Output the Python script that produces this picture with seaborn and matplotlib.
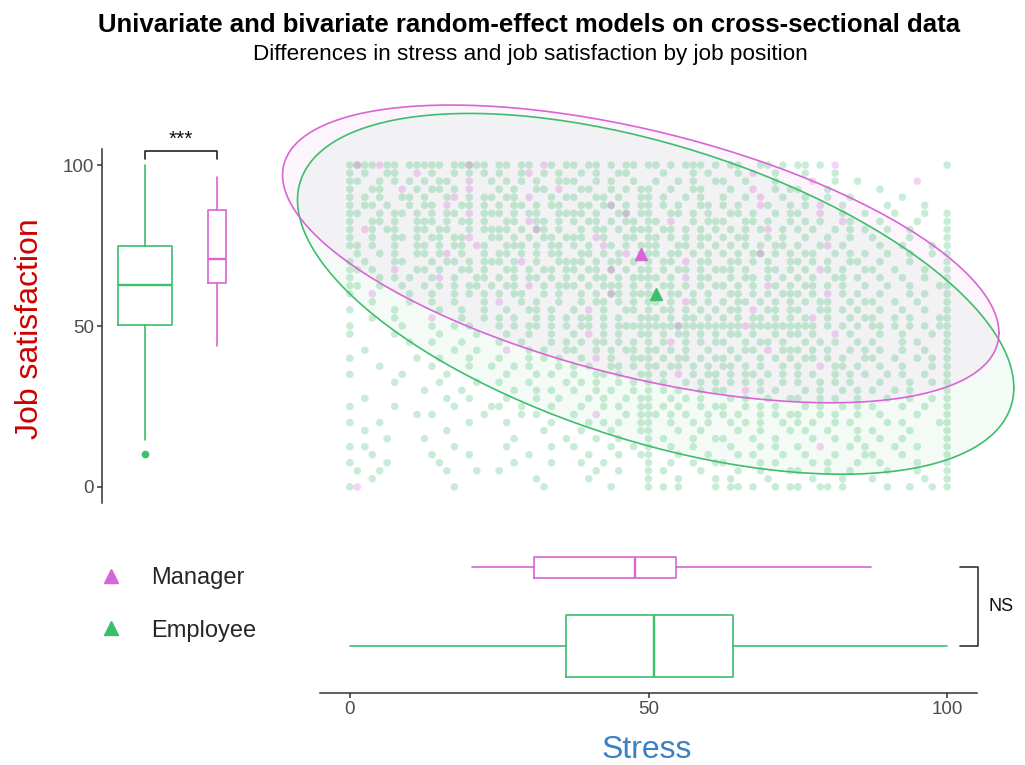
import numpy as np
import pandas as pd
import matplotlib.pyplot as plt
import seaborn as sns
from matplotlib.lines import Line2D

sns.set_theme(style='white')
plt.rcParams['font.family'] = ['Liberation Sans', 'DejaVu Sans']

W, H = 1025, 765

# --- data ---
groups = ['Employee', 'Manager']
palette = {'Manager': '#D865D5', 'Employee': '#3DBE6C'}
n_obs = {'Employee': 1750, 'Manager': 205}

# job satisfaction boxplot (employee, manager)
js_low = [14.5, 43.8]
js_q1 = [50.3, 63.3]
js_med = [62.6, 70.9]
js_q3 = [74.8, 85.9]
js_high = [100, 96.4]
js_out = [[10.2], []]

# stress boxplot (employee, manager)
st_low = [0, 20.5]
st_q1 = [36.2, 30.9]
st_med = [51.0, 47.7]
st_q3 = [64.2, 54.6]
st_high = [100, 87.2]
st_out = [[], []]

# bivariate model estimates
mean_stress = {'Manager': 48.7, 'Employee': 51.2}
mean_js = {'Manager': 72.4, 'Employee': 60.0}
sd_stress = {'Manager': 24.5, 'Employee': 24.5}
sd_js = {'Manager': 18.9, 'Employee': 22.9}
rho = {'Manager': -0.53, 'Employee': -0.52}
chi2_95 = 5.991

# raw answers: one row per job satisfaction level (100 -> 0, step 2.5),
# one character per stress level (0 -> 100, step 1.25); o = employee, m = manager, x = both
grid_rows = [
    "oxoomoo.oo ooo.ooxoo. oo.oo.mo.o o.oo.o.oo. oo.o.ooo.o .oo..oo.o. oo.o.m.... .......... o",
    "o.o..oo..m .o..o.o.o. o..om.o.o. .o.o..oo.. ..o...o.o. ..o.m..o.. .o...o.... .......... .",
    "oo..o.o.o. o.oo..m..o .o.o.o..oo o..o.o..o. .o..o.o..o o..o...o.. ..m..o..o. ......m... .",
    "o..oo..m.o .oo.o.m... o.o..oo.m. .oo..o.o.o o..o..oo.. .o..m..o.o o...o..... .o........ .",
    "o.o.o..oo. o..om.o.oo .oo.m..o.o o..oo.o..o o.o..o.o.. o..o.m..o. .o..o..o.. ....o..... .",
    "o.oo.o..o. oo.m.oo.o. o.oo.o.oo. .oo.ox.o.o o.o.o..oo. o.o..mo..o .o.m..o... ..o....o.. .",
    "oo..o.oo.o .o.oo.m.oo o.o.oo..oo oo.o..ox.o o..oo.o.o. .oo.o..o.o o..m..o..o ...o...o.. o",
    "o..oo.o..o oo.o.oo.o. .oo.moo.o. o.oo.o.oo. oo.m..o.oo o..oo.o..o .o.o..mo.. .o....o... o",
    "o.mo.oo..o o.oo..o.oo oo.o.xo.o. .o.oo.o.oo o.oo.o.o.o .o.o.om.o. o.o..o.o.o ..o..o.... o",
    "o..o..oo.o .oo.oom..o o.o.o.oo.o oo.mo..oo. oo.o.o.oo. o.oo..o.o. .o..o..o.. o....o.... o",
    "oo.o..o..o o.o.oo.mo. .ooo.o.oo. o.o.mo.o.o oo..oo.o.o .o.o.o.oo. o..om.o... .o..o...o. o",
    ".o..o.o..o o.om.o..o. oo.o.o.oo. .oo.o.om.o oo.oo.o.o. o.o.ox.o.o .oo..o.o.o ..o..o..o. o",
    "o.o...oo.. .o.oo.o.oo o.om.o..oo oo.o.oo.o. o.oo.m.oo. .oo.o.o..o o.o.o..oo. .o...o.... o",
    "oo.o..m..o o.o..oo.o. .oo.o.oo.o o.oo.x.o.o o.o.oo.o.o oo.o..oo.o .o.mo.o..o o..o...o.. o",
    "o...o.o.o. .om.o..oo. o.o.oo.o.o .o.oo.o.oo oo.o.m.oo. .o.oo.o.o. o.o..oo.o. .o..o..o.. o",
    "oo..o..o.. o.o.o.oo.o .oo.m.o.oo o.o.ooo.o. o.oo.o.o.o o.o.o.mo.o .oo.o.o..o ..o..o...o o",
    "o..m....o. .o..o.o.o. o.oo..o.o. .o.o.xo.oo oo.oo.o.o. .oo.o.o.oo o.o.m.o.o. .o...o.o.. o",
    "...o....o. .o..o...o. m..o.o..o. .o.oo.o.o. oo.o.mo.o. o.oo.o.o.o .o.oo..o.o o..o..o... o",
    "o.....o... ..o..o..o. .o..oo.o.. o.m.o..oo. o.oo.o.o.o .oo.m.oo.o o..oo.o.o. .o..o..o.. o",
    "...o..o... .m...o..o. o.o..o.o.o .oo.o.o..o oo.o.oo.o. o.o.oo.o.o .om.o..o.o o..o.o...o o",
    "o......o.. .o..o.o... o.o.oo.o.o .oo.o.oooo ooooxooooo ooomoooooo ooo.o.o.o. oo.o.o.o.o o",
    "o.....o... ..o....o.. .o..o..o.. o.m.o.o..o o.o.oo.o.o .oo.o..o.o o.o..m.o.. .o..o...o. o",
    "........o. .o...o.... o..o...o.o .o.oo.o.o. o.om.o.o.o o..o.oo.o. .o.o.o..o. o...o.o... o",
    "..o....... ....o..o.. .m..o.o..o o..o.o.oo. oo.o.o..o. .o.oo.m.oo o.o.o..o.o .o..o..o.. o",
    "o........o ..o...o... o...o.o.o. .o.m.o..oo o.o.oo.o.o o.o..o.o.o .oo.o.o..o o..o..o.o. o",
    "....o..... .o....o..o ..o.o...o. o.o..oo.o. oo.oo.o.o. oo.o.o..o. o..m.oo.o. .o..o...o. o",
    "o......o.. ...o...... .o...o.o.. o..oo.o..o o.o.m.o.oo .o.oo.o.o. o.o..o.o.o ..o.o..o.. o",
    "......o... ..o....o.. o...o....o .o.o..o.o. o.o..o.o.o .o.o.o..o. o..o.o.o.. .o...o..o. o",
    ".......... o....o.... ..o..o.o.. o..o.o..o. o.o.o..o.o o..m.o.o.. .o.o..o.o. o..o.o.... o",
    "..o....... ...o..o... .o...o..o. ..o.o..o.o o..o.o.o.. .o.o..o..o o..o.o..o. ..o..o..o. o",
    "o.....o... ....o....o o..o...o.. .o..o.o..o o.o.o..o.o o..o.o.o.. .o.o..o.o. o...o..o.. o",
    ".........o .o......o. ...o.o.... o..m...o.o oo.o.o..o. o.o..o.o.o o..o.o..o. .o....o... o",
    "o...o..... ......o... .o.....o.. ..o.o.o..o o..o..o.o. .o.o.o..o. o.o..o.o.. ..o.o....o o",
    "..o....... ...o...... ......o... .o...o...o o...o..o.. ..o..o...o .o..o...o. o....o.... o",
    ".....o.... o......... ..o......o ...o..o... o.o...o..o o...o..o.. ..o..o..o. .o..o..... o",
    "o.o....... ....o..... .o.....o.. o....o..o. o..o..o... .o...o.o.. o..m...o.o ...o..o... o",
    "...o...... .o....o... ....o..... ..o...o..o o...o...o. ..o.o...o. .o...o...o o...o..... o",
    "o....o.... ..o....... ..o....o.. .o..o..... o..o..o..o o....o.o.. ..o.o...o. .o....o... o",
    ".o..o..... ...o...o.. o......... ...o..o... o.o....o.. ..o..o...o o...o..o.. ..o...o... o",
    "...o...... .......... .....o.... ..o....... o...o....o .o....o... ..o...o... o......o.. o",
    "om........ ....o..... ......o... .....o.... o.o.o....o .oo.o..o.o o..oo.o... ..o..o..o. o",
]

records = []
for j, row in enumerate(grid_rows):
    js = 100 - 2.5 * j
    for i, ch in enumerate(row.replace(' ', '')):
        st = 1.25 * i
        if ch in 'ox':
            records.append((st, js, 'Employee'))
        if ch in 'mx':
            records.append((st, js, 'Manager'))
df = pd.DataFrame(records, columns=['Stress', 'Job satisfaction', 'Position'])


def px_axes(x0, y0, x1, y1):
    return fig.add_axes([x0 / W, 1 - y1 / H, (x1 - x0) / W, (y1 - y0) / H])


def box_stats(i, low, q1, med, q3, high, out):
    return dict(whislo=low[i], q1=q1[i], med=med[i], q3=q3[i], whishi=high[i], fliers=out[i])


fig = plt.figure(figsize=(W / 100, H / 100), dpi=100)
axis_col = '#333333'
tick_col = '#4D4D4D'

# ------ scatter + ellipses ------
ax = px_axes(320, 149, 977, 503)
ax.set_xlim(-5, 105)
ax.set_ylim(-5, 105)

t = np.linspace(0, 2 * np.pi, 240)
for g in ['Employee', 'Manager']:
    cov = np.array([[sd_stress[g] ** 2, rho[g] * sd_stress[g] * sd_js[g]],
                    [rho[g] * sd_stress[g] * sd_js[g], sd_js[g] ** 2]])
    L = np.linalg.cholesky(cov)
    pts = (L @ np.vstack([np.cos(t), np.sin(t)])) * np.sqrt(chi2_95)
    ex = mean_stress[g] + pts[0]
    ey = mean_js[g] + pts[1]
    ax.fill(ex, ey, color=palette[g], alpha=0.055, lw=0, clip_on=False, zorder=1)
    ax.plot(ex, ey, color=palette[g], lw=1.2, clip_on=False, zorder=3)

for g in ['Employee', 'Manager']:
    sns.scatterplot(data=df[df['Position'] == g], x='Stress', y='Job satisfaction',
                    color=palette[g], alpha=0.28, s=30, edgecolor='none', ax=ax,
                    legend=False, zorder=2)
for g in ['Employee', 'Manager']:
    ax.plot(mean_stress[g], mean_js[g], marker='^', ms=9, color=palette[g], ls='', zorder=5)
ax.axis('off')

# ------ left boxplot: job satisfaction ------
axl = px_axes(101.8, 149, 260, 503)
w_emp = 0.75
widths = [w_emp, w_emp * np.sqrt(n_obs['Manager'] / n_obs['Employee'])]
for i, g in enumerate(groups):
    c = palette[g]
    axl.bxp([box_stats(i, js_low, js_q1, js_med, js_q3, js_high, js_out)],
            positions=[i + 1], widths=[widths[i]], showcaps=False, showfliers=True,
            boxprops=dict(color=c, lw=1.2), whiskerprops=dict(color=c, lw=1.2),
            medianprops=dict(color=c, lw=1.7),
            flierprops=dict(marker='o', markerfacecolor=c, markeredgecolor=c, markersize=4.5))
axl.set_xlim(0.4, 2.6)
axl.set_ylim(-5, 105)
axl.set_xticks([])
axl.set_yticks([0, 50, 100])
for s in ['top', 'right', 'bottom']:
    axl.spines[s].set_visible(False)
axl.spines['left'].set_color(axis_col)
axl.spines['left'].set_linewidth(1.1)
axl.tick_params(axis='y', left=True, length=3.5, width=1.1, color=axis_col,
                labelsize=13.5, labelcolor=tick_col, pad=2)
axl.set_facecolor('none')
# significance bracket
axl.plot([1, 1, 2, 2], [101.9, 104.4, 104.4, 101.9], color='#222222', lw=1.2, clip_on=False)
axl.text(1.5, 105.2, '***', ha='center', va='bottom', fontsize=15, color='#111111')

# ------ bottom boxplot: stress ------
axb = px_axes(320, 520, 977, 693)
for i, g in enumerate(groups):
    c = palette[g]
    axb.bxp([box_stats(i, st_low, st_q1, st_med, st_q3, st_high, st_out)],
            positions=[i + 1], widths=[widths[i] * 1.05], orientation='horizontal',
            showcaps=False, showfliers=False,
            boxprops=dict(color=c, lw=1.2), whiskerprops=dict(color=c, lw=1.2),
            medianprops=dict(color=c, lw=1.7))
axb.set_xlim(-5, 105)
axb.set_ylim(0.4, 2.6)
axb.set_yticks([])
axb.set_xticks([0, 50, 100])
for s in ['top', 'right', 'left']:
    axb.spines[s].set_visible(False)
axb.spines['bottom'].set_color(axis_col)
axb.spines['bottom'].set_linewidth(1.1)
axb.tick_params(axis='x', bottom=True, length=3.5, width=1.1, color=axis_col,
                labelsize=13.5, labelcolor=tick_col, pad=2)
axb.set_facecolor('none')
axb.plot([102.1, 105.1, 105.1, 102.1], [2, 2, 1, 1], color='#333333', lw=1.2, clip_on=False)
axb.text(107.0, 1.5, 'NS', ha='left', va='center', fontsize=13, color='#111111')

# ------ labels, titles, legend ------
fig.text(30 / W, 1 - 329 / H, 'Job satisfaction', rotation=90, ha='center', va='center',
         fontsize=23, color='#CD0000')
fig.text(647 / W, 1 - 750 / H, 'Stress', ha='center', va='center', fontsize=23, color='#3C7FC6')
fig.text(529 / W, 1 - 32 / H, 'Univariate and bivariate random-effect models on cross-sectional data',
         ha='center', va='baseline', fontsize=18.5, fontweight='bold', color='black')
fig.text(530 / W, 1 - 60 / H, 'Differences in stress and job satisfaction by job position',
         ha='center', va='baseline', fontsize=16.2, color='black')

handles = [Line2D([], [], marker='^', ls='', ms=10, color=palette['Manager'], label='Manager'),
           Line2D([], [], marker='^', ls='', ms=10, color=palette['Employee'], label='Employee')]
fig.legend(handles=handles, loc='upper left', bbox_to_anchor=(97 / W, 1 - 567 / H),
           frameon=False, fontsize=17, labelspacing=1.3, handletextpad=1.1, handlelength=1.2,
           borderpad=0, borderaxespad=0)

fig.savefig('out.png', dpi=100)
